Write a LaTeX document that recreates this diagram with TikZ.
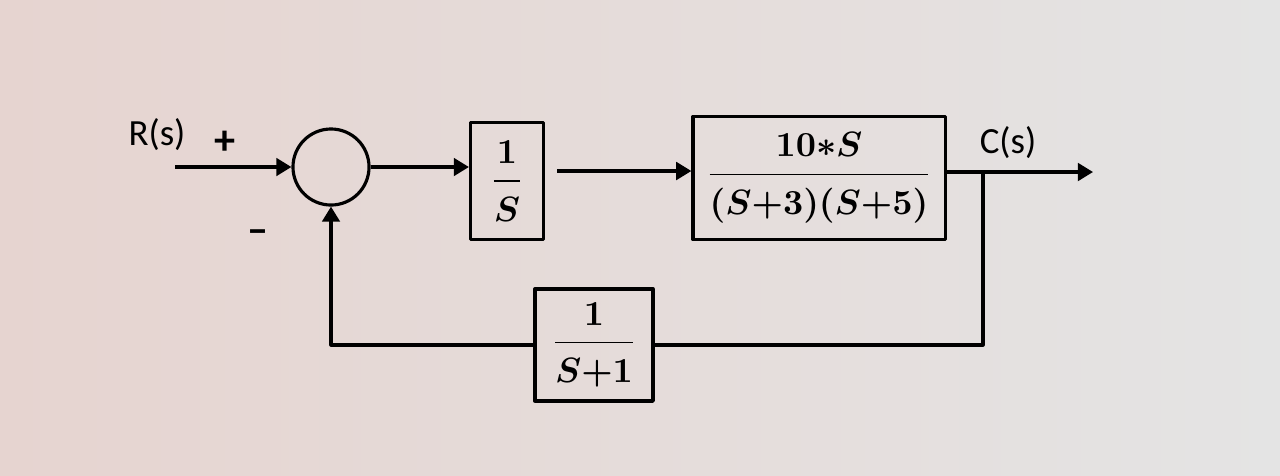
\documentclass[tikz,border=0pt]{standalone}
\usepackage{amsmath}
\usepackage{fontspec}
\setmainfont{Carlito}
\usetikzlibrary{arrows.meta}
\definecolor{bgl}{RGB}{230,212,208}
\definecolor{bgr}{RGB}{228,228,228}
\newcommand{\up}{\rule[-3.5pt]{0pt}{1pt}}
\newcommand{\dn}{\rule{0pt}{10pt}}
\begin{document}
\begin{tikzpicture}[x=0.01cm,y=-0.01cm,>={Triangle[length=4.3pt,width=5pt]},line width=0.9pt,line join=round,
	blk/.style={draw,inner sep=0pt},
	tf/.style={font=\fontsize{10}{12}\selectfont\boldmath},
	lbl/.style={font=\fontsize{10.5}{12}\selectfont}]
	\shade[left color=bgl,right color=bgr] (0,0) rectangle (1280,475);
	\useasboundingbox (0,0) rectangle (1280,475);
	% blocks
	\node[draw,circle,minimum size=0.76cm,inner sep=0pt] (sum) at (331,167) {};
	\node[blk,minimum width=0.73cm,minimum height=1.17cm,tf] (ga) at (507,181) {$\dfrac{1\up}{\dn S}$};
	\node[blk,minimum width=2.52cm,minimum height=1.23cm,tf] (gb) at (819,178) {$\dfrac{10{\ast}S\up}{\dn(S{+}3)(S{+}5)}$};
	\node[blk,minimum width=1.18cm,minimum height=1.12cm,tf] (h) at (594,345) {$\dfrac{1\up}{\dn S{+}1}$};
	\coordinate (in) at (175,167);
	\coordinate (gap) at (557,171);
	\coordinate (br) at (983,172);
	\coordinate (out) at (1093,172);
	% labels
	\node[lbl] (r) at (157,135) {R(s)};
	\node[lbl] (c) at (1008,143) {C(s)};
	\node[lbl,font=\fontsize{12}{12}\selectfont\bfseries] (plus) at (225,143) {+};
	\node[lbl,font=\fontsize{12}{12}\selectfont\bfseries] (minus) at (258,237) {--};
	% connections
	\draw[->] (in) -- (sum.west);
	\draw[->] (sum.east) -- (sum.east -| ga.west);
	\draw[->] (gap) -- (gap -| gb.west);
	\draw[->] (gb.east |- out) -- (out);
	\draw (br) |- (h.east);
	\draw[->] (h.west) -| (sum.south);
\end{tikzpicture}
\end{document}
